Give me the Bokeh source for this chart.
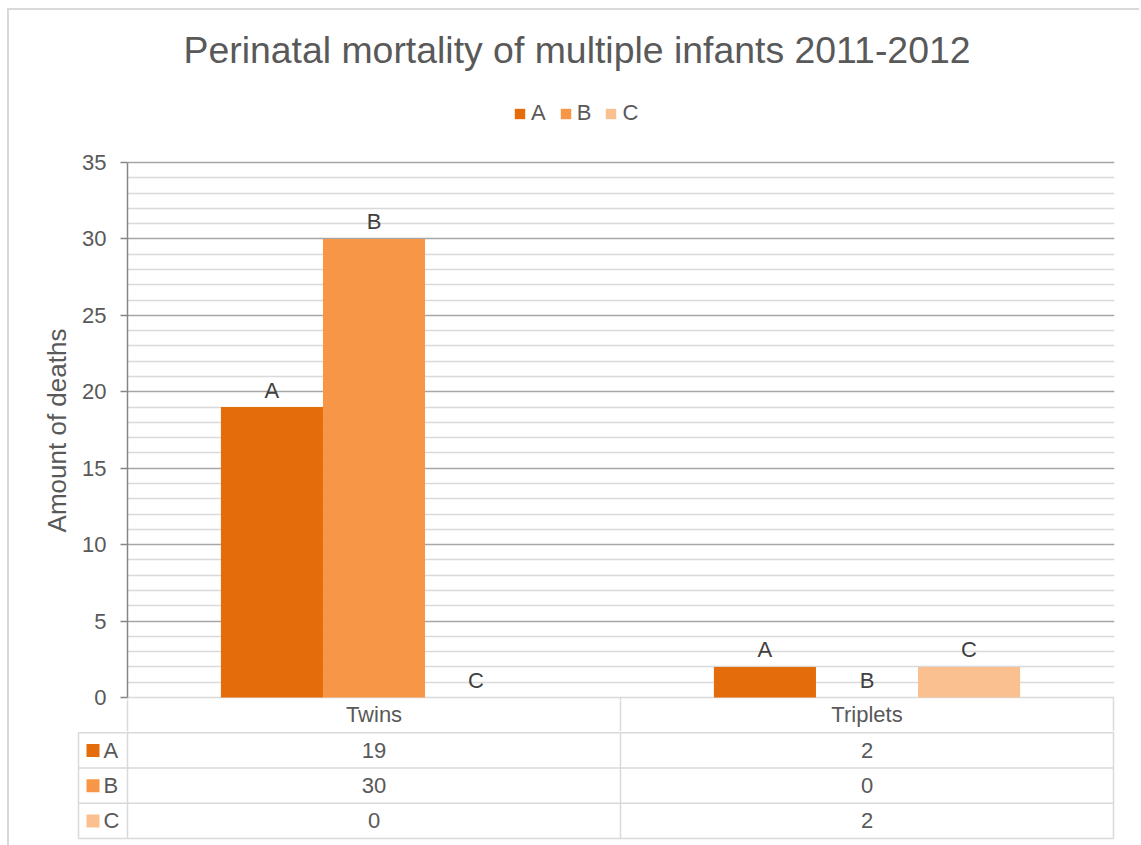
from bokeh.plotting import figure
from bokeh.models import Range1d, FixedTicker, Legend, LegendItem
from bokeh.embed import file_html
from bokeh.resources import INLINE
from bokeh.core.properties import value
import numpy as np

# ---------------- data ----------------
chart_title = "Perinatal mortality of multiple infants 2011-2012"
categories = ["Twins", "Triplets"]
series_names = ["A", "B", "C"]
values_A = [19, 2]
values_B = [30, 0]
values_C = [0, 2]
series_values = [values_A, values_B, values_C]
series_colors = ["#E46C0A", "#F79646", "#FAC090"]
y_label = "Amount of deaths"
y_ticks = [0, 5, 10, 15, 20, 25, 30, 35]
y_max = 35

# ---------------- styling / geometry ----------------
FONT = "Liberation Sans"
TXT = "#595959"
LBL = "#404040"
TABLE_LINE = "#d9d9d9"
BW = 2                          # chart border width
BORDER = f"{BW}px solid #d9d9d9"
ox, oy = 9, 10                 # inner origin inside the chart border
plot_left, plot_right = 127, 1113
y0_px, ytop_px = 697, 162
ppu_x = (plot_right - plot_left) / len(categories)
ppu_y = (y0_px - ytop_px) / y_max
bar_w = 0.207
centers = np.arange(len(categories)) + 0.5
W = 1141 - ox

# ================= header figure: title + legend =================
p0_bottom = 140
p0 = figure(width=W, height=p0_bottom - oy + BW,
            x_range=Range1d(0, 1), y_range=Range1d(0, 1),
            output_backend="svg", toolbar_location=None,
            x_axis_location=None, y_axis_location=None,
            min_border_left=plot_left - ox, min_border_right=27,
            min_border_top=0, min_border_bottom=0)
p0.outline_line_color = None
p0.xgrid.visible = False
p0.ygrid.visible = False
p0.margin = (8, 0, 0, 7)
p0.styles = {"border-top": BORDER, "border-left": BORDER}

p0.title.text = chart_title
p0.title.align = "left"
p0.title.offset = 56
p0.title.text_font = FONT
p0.title.text_font_size = "37.4px"
p0.title.text_font_style = "normal"
p0.title.text_color = TXT
p0.title.standoff = 32

# legend swatches (zero-height, kept outside the header's visible range)
swatches = [p0.vbar(x=[-5], top=[0], bottom=0, width=0.1, fill_color=c, line_color=None)
            for c in series_colors]
legend = Legend(items=[LegendItem(label=n, renderers=[r]) for n, r in zip(series_names, swatches)],
                orientation="horizontal", location=(513 - plot_left, p0_bottom - 124),
                glyph_width=13, glyph_height=13, label_standoff=5, spacing=13,
                label_width=14, label_height=20,
                padding=0, margin=0, border_line_color=None, background_fill_alpha=0,
                label_text_font=FONT, label_text_font_size="22px", label_text_color=TXT)
p0.add_layout(legend, "center")

# ================= chart figure =================
f1_right, f1_top, f1_bottom = 1114, 160, 700
p1_top, p1_bottom = p0_bottom, 731   # canvas extent (header row of the table included)
x_end1 = len(categories) + (f1_right - plot_right) / ppu_x
y_start1 = -(f1_bottom - y0_px) / ppu_y
y_end1 = y_max + (ytop_px - f1_top) / ppu_y

p1 = figure(width=W, height=p1_bottom - p1_top,
            x_range=Range1d(0, x_end1), y_range=Range1d(y_start1, y_end1),
            output_backend="svg", toolbar_location=None,
            min_border_left=plot_left - ox, min_border_right=1141 - f1_right,
            min_border_top=f1_top - p1_top, min_border_bottom=p1_bottom - f1_bottom)
p1.outline_line_color = None
p1.margin = (0, 0, 0, 7)
p1.styles = {"border-left": BORDER}

# y axis
ax = p1.yaxis[0]
ax.ticker = FixedTicker(ticks=y_ticks)
ax.bounds = (0, y_max)
ax.axis_label = y_label
ax.axis_label_text_font = FONT
ax.axis_label_text_font_size = "26px"
ax.axis_label_text_font_style = "normal"
ax.axis_label_text_color = TXT
ax.axis_label_standoff = 7
ax.major_label_text_font = FONT
ax.major_label_text_font_size = "22px"
ax.major_label_text_color = TXT
ax.major_label_standoff = 14
ax.axis_line_color = "#868686"
ax.axis_line_width = 1.5
ax.major_tick_line_color = "#868686"
ax.major_tick_line_width = 1.5
ax.major_tick_out = 7
ax.major_tick_in = 0
ax.minor_tick_line_color = None

# x axis = header row of the data table (category names, cell separators)
row_px = p1_bottom - f1_bottom
xa = p1.xaxis[0]
xa.ticker = FixedTicker(ticks=list(centers), minor_ticks=list(range(0, len(categories) + 1)))
xa.major_label_overrides = {float(c): cat for c, cat in zip(centers, categories)}
xa.major_label_text_font = FONT
xa.major_label_text_font_size = "22px"
xa.major_label_text_color = TXT
xa.major_label_standoff = -30
xa.axis_line_color = None
xa.major_tick_line_color = None
xa.major_tick_out = 0
xa.major_tick_in = 0
xa.minor_tick_line_color = TABLE_LINE
xa.minor_tick_line_width = 1.5
xa.minor_tick_out = row_px
xa.minor_tick_in = 0

# grids
p1.xgrid.visible = False
g = p1.ygrid[0]
g.ticker = FixedTicker(ticks=[t for t in y_ticks if t > 0],
                       minor_ticks=[t for t in range(0, y_max + 1) if t % 5 != 0 or t == 0])
g.grid_line_color = "#a6a6a6"
g.grid_line_width = 1.5
g.minor_grid_line_color = TABLE_LINE
g.minor_grid_line_width = 1.5

# bars + labels
for k, (name, vals, col) in enumerate(zip(series_names, series_values, series_colors)):
    xs = centers + (k - 1) * bar_w
    p1.vbar(x=xs, top=vals, bottom=0, width=bar_w, fill_color=col, line_color=None)
    p1.text(x=xs, y=vals, text=[name] * len(vals), text_align="center",
            text_baseline="alphabetic", y_offset=-17,
            text_font=value(FONT), text_font_size="22px", text_color=LBL)

# table vertical lines continuing into the plot's bottom strip
vx1 = list(range(0, len(categories) + 1))
p1.segment(x0=vx1, y0=[y_start1] * len(vx1), x1=vx1, y1=[0] * len(vx1),
           line_color=TABLE_LINE, line_width=1.5)

# ================= data table figure =================
f2_left, f2_right, f2_top, f2_bottom = 76, 1116, p1_bottom, 841
table_left_px, table_top_px, table_bottom_px = 78, 732.25, 838
n_rows = len(series_names)
row_h = (table_bottom_px - table_top_px) / n_rows
x_start2 = -(plot_left - f2_left) / ppu_x
x_end2 = len(categories) + (f2_right - plot_right) / ppu_x
y_top2 = n_rows + (table_top_px - f2_top) / row_h
y_bot2 = -(f2_bottom - table_bottom_px) / row_h
table_left = -(plot_left - table_left_px) / ppu_x

p2 = figure(width=W, height=845 - f2_top,
            x_range=Range1d(x_start2, x_end2), y_range=Range1d(y_bot2, y_top2),
            output_backend="svg", toolbar_location=None,
            x_axis_location=None, y_axis_location=None,
            min_border_left=f2_left - ox, min_border_right=1141 - f2_right,
            min_border_top=0, min_border_bottom=845 - f2_bottom)
p2.outline_line_color = None
p2.xgrid.visible = False
p2.ygrid.visible = False
p2.margin = (0, 0, 0, 7)
p2.styles = {"border-left": BORDER}

hy = list(range(0, n_rows + 1))
p2.segment(x0=[table_left] * len(hy), y0=hy, x1=[len(categories)] * len(hy), y1=hy,
           line_color=TABLE_LINE, line_width=1.5)
vx = [table_left] + list(range(0, len(categories) + 1))
p2.segment(x0=vx, y0=[0] * len(vx), x1=vx, y1=[n_rows] * len(vx),
           line_color=TABLE_LINE, line_width=1.5)
p2.segment(x0=vx1, y0=[n_rows] * len(vx1), x1=vx1, y1=[y_top2] * len(vx1),
           line_color=TABLE_LINE, line_width=1.5)

for k, (name, vals, col) in enumerate(zip(series_names, series_values, series_colors)):
    yrow = n_rows - 0.5 - k
    p2.text(x=centers, y=[yrow] * len(vals), text=[str(v) for v in vals],
            text_align="center", text_baseline="middle",
            text_font=value(FONT), text_font_size="22px", text_color=TXT)
    p2.scatter(x=[-(plot_left - 92.5) / ppu_x], y=[yrow], marker="square", size=13,
               fill_color=col, line_color=None)
    p2.text(x=[-(plot_left - 103) / ppu_x], y=[yrow], text=[name],
            text_align="left", text_baseline="middle",
            text_font=value(FONT), text_font_size="22px", text_color=TXT)

open("out.html", "w").write(file_html([p0, p1, p2], INLINE))
